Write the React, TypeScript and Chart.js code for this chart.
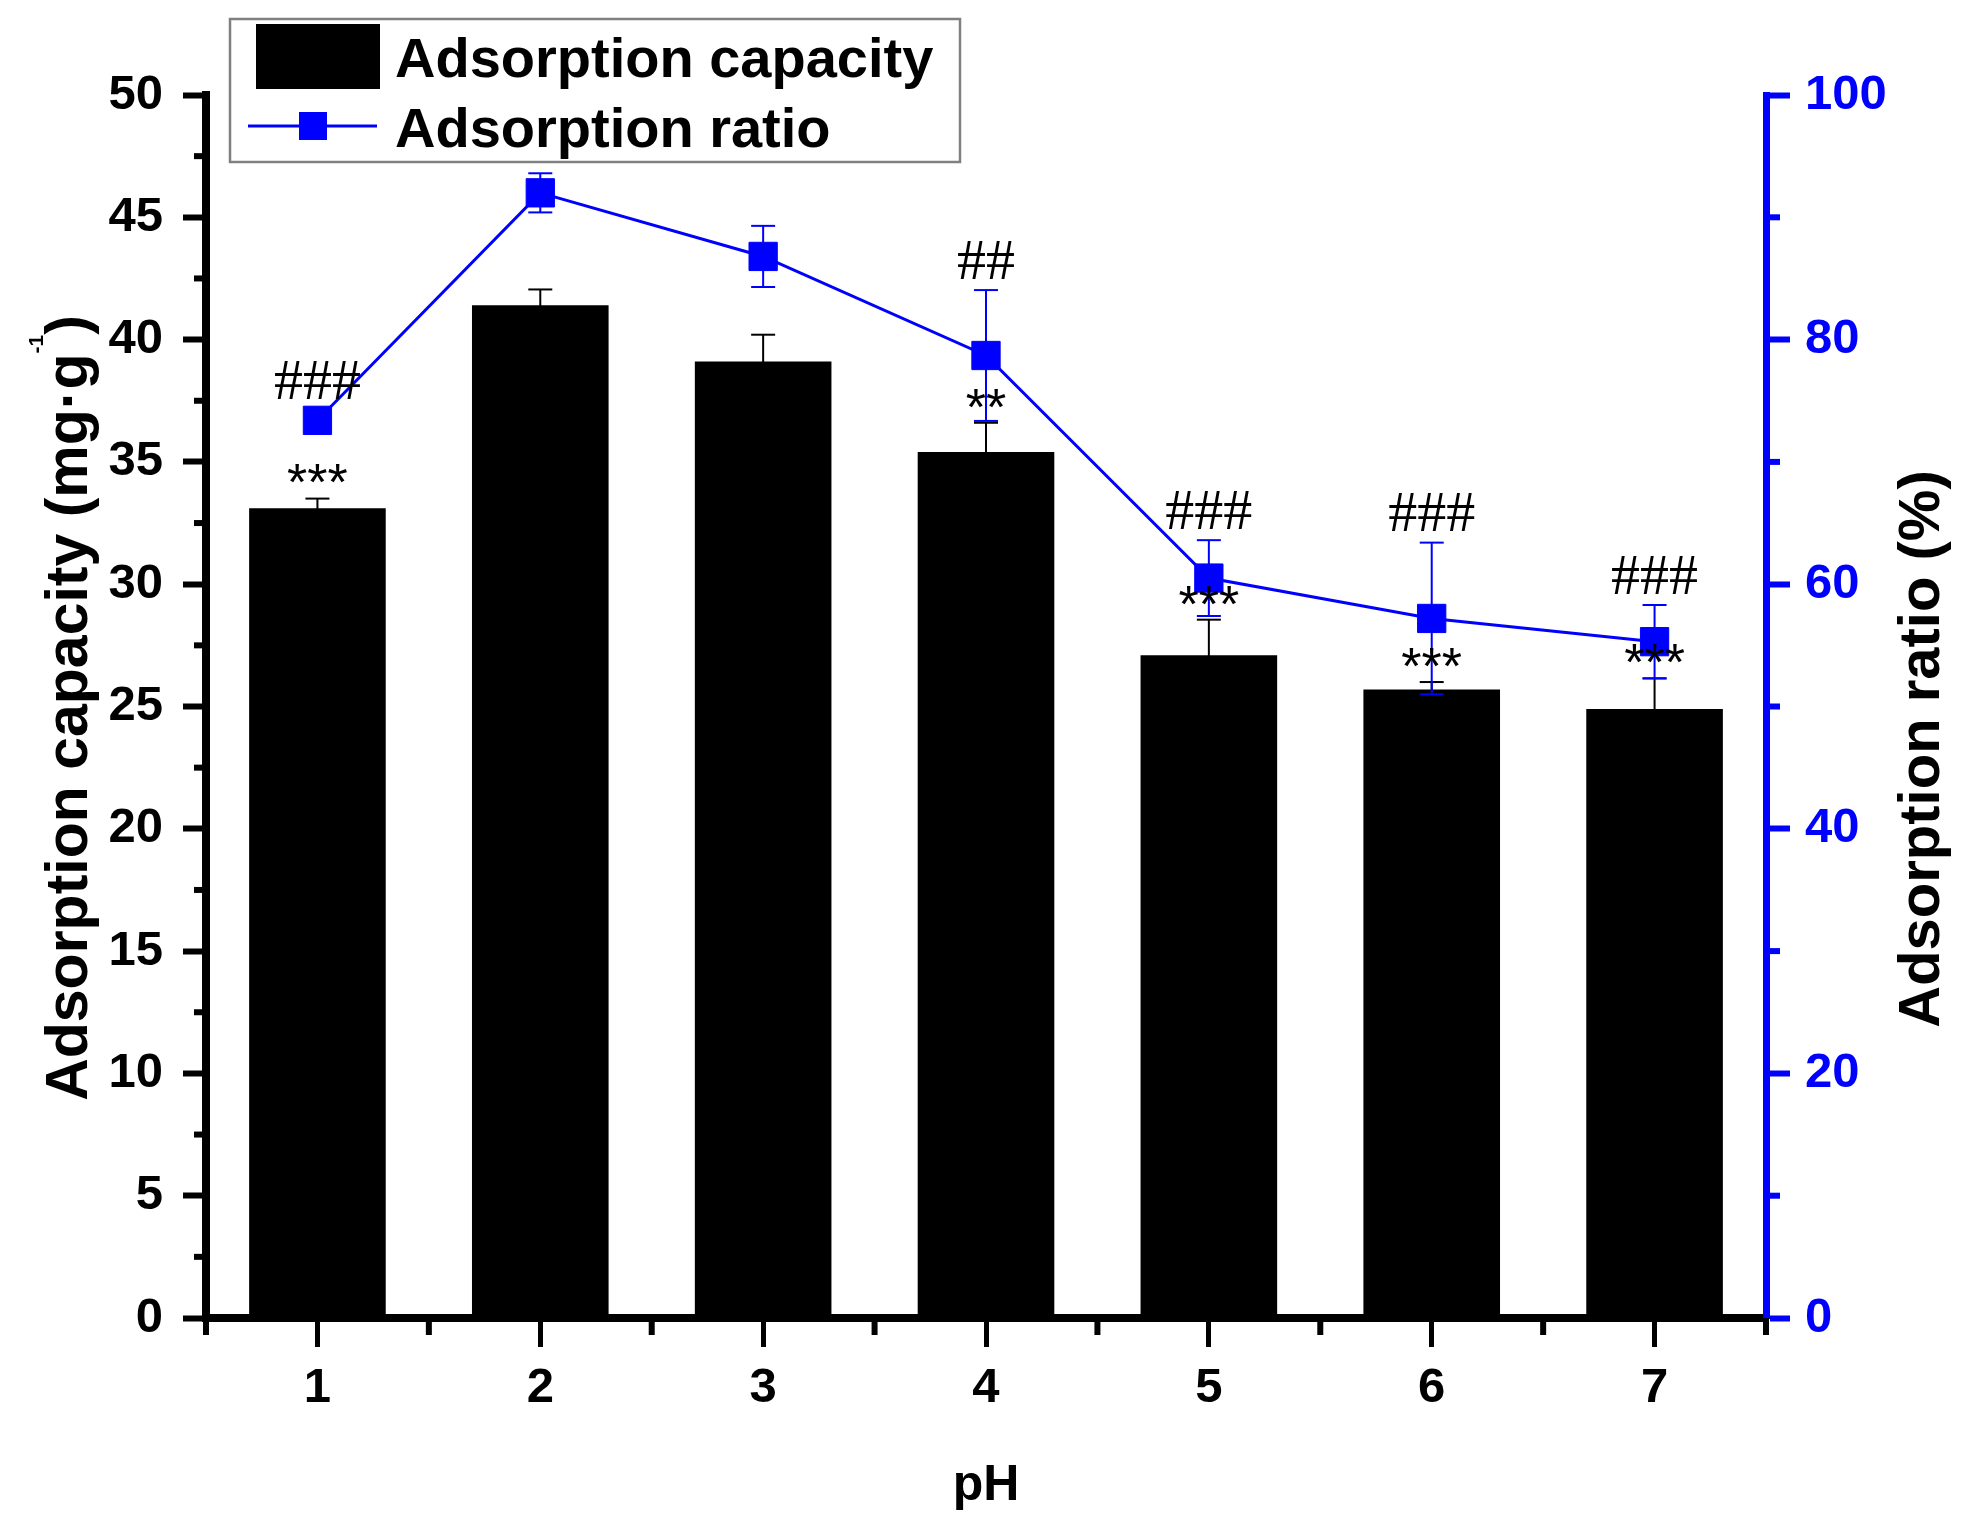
import React, { useEffect, useRef } from 'react';
import { Chart, registerables } from 'chart.js';

Chart.register(...registerables);

// ---------- data ----------
const pHCategories = ['1', '2', '3', '4', '5', '6', '7'];
const capacityValues = [33.1, 41.4, 39.1, 35.4, 27.1, 25.7, 24.9];
const capacityErrors = [0.4, 0.65, 1.1, 1.2, 1.45, 0.3, 1.25];
const ratioValues = [73.4, 92.0, 86.8, 78.7, 60.5, 57.2, 55.3];
const ratioErrors = [0.8, 1.6, 2.5, 5.35, 3.1, 6.2, 3.0];
const capacityMarks = ['***', '', '', '**', '***', '***', '***'];
const ratioMarks = ['###', '', '', '##', '###', '###', '###'];
const seriesLabels = ['Adsorption capacity', 'Adsorption ratio'];
const capacityAxisRange = [0, 50];
const capacityAxisStep = 5;
const ratioAxisRange = [0, 100];
const ratioAxisStep = 20;
const leftTitleParts = ['Adsorption capacity (mg·g', '-1', ')'];
const rightTitle = 'Adsorption ratio (%)';
const xTitle = 'pH';

// ---------- style ----------
const W = 1967;
const H = 1529;
const SANS = '"Liberation Sans", Arial, Helvetica, sans-serif';
const SERIF = '"Liberation Serif", "Times New Roman", serif';
const BLUE = '#0000ff';

function line(ctx: CanvasRenderingContext2D, x1: number, y1: number, x2: number, y2: number) {
  ctx.beginPath();
  ctx.moveTo(x1, y1);
  ctx.lineTo(x2, y2);
  ctx.stroke();
}

function drawErrorBars(chart: any, yId: string, values: number[], errors: number[], color: string, lw: number, cap: number) {
  const ctx: CanvasRenderingContext2D = chart.ctx;
  const xs = chart.scales.x;
  const ys = chart.scales[yId];
  ctx.save();
  ctx.strokeStyle = color;
  ctx.lineWidth = lw;
  values.forEach((v, i) => {
    const x = xs.getPixelForValue(i);
    const yt = ys.getPixelForValue(v + errors[i]);
    const yb = ys.getPixelForValue(v - errors[i]);
    line(ctx, x, yt, x, yb);
    line(ctx, x - cap / 2, yt, x + cap / 2, yt);
    line(ctx, x - cap / 2, yb, x + cap / 2, yb);
  });
  ctx.restore();
}

const overlayPlugin = {
  id: 'overlay',
  afterDatasetDraw(chart: any, args: any) {
    if (args.index === 0) {
      drawErrorBars(chart, 'y', capacityValues, capacityErrors, '#000', 2, 24);
    }
  },
  beforeDatasetDraw(chart: any, args: any) {
    if (args.index === 1) {
      drawErrorBars(chart, 'y1', ratioValues, ratioErrors, BLUE, 2, 24);
    }
  },
  afterDatasetsDraw(chart: any) {
    const ctx: CanvasRenderingContext2D = chart.ctx;
    const { chartArea, scales } = chart;
    const xs = scales.x;
    const ys = scales.y;
    const y1 = scales.y1;
    ctx.save();
    // minor ticks
    ctx.lineWidth = 6;
    ctx.strokeStyle = '#000';
    for (let v = capacityAxisRange[0] + capacityAxisStep / 2; v < capacityAxisRange[1]; v += capacityAxisStep) {
      const y = ys.getPixelForValue(v);
      line(ctx, chartArea.left - 12, y, chartArea.left, y);
    }
    for (let i = 0; i <= pHCategories.length; i++) {
      const x = xs.getPixelForValue(i - 0.5);
      line(ctx, x, chartArea.bottom, x, chartArea.bottom + 17);
    }
    ctx.strokeStyle = BLUE;
    for (let v = ratioAxisRange[0] + ratioAxisStep / 2; v < ratioAxisRange[1]; v += ratioAxisStep) {
      const y = y1.getPixelForValue(v);
      line(ctx, chartArea.right, y, chartArea.right + 14, y);
    }
    // significance marks
    ctx.fillStyle = '#000';
    ctx.textAlign = 'center';
    ctx.textBaseline = 'alphabetic';
    const starSize = 52;
    ctx.font = `${starSize}px ${SANS}`;
    capacityMarks.forEach((m, i) => {
      if (!m) return;
      const x = xs.getPixelForValue(i);
      const top = ys.getPixelForValue(capacityValues[i] + capacityErrors[i]);
      const centre = top - 28;
      ctx.fillText(m, x, centre + 0.575 * starSize);
    });
    const hashSize = 58;
    ctx.font = `${hashSize}px ${SERIF}`;
    ratioMarks.forEach((m, i) => {
      if (!m) return;
      const x = xs.getPixelForValue(i);
      const top = y1.getPixelForValue(ratioValues[i] + ratioErrors[i]);
      const centre = top - 31;
      ctx.fillText(m, x, centre + 0.338 * hashSize);
    });
    ctx.restore();
  },
  afterDraw(chart: any) {
    const ctx: CanvasRenderingContext2D = chart.ctx;
    const { chartArea } = chart;
    ctx.save();
    ctx.fillStyle = '#000';
    ctx.textBaseline = 'alphabetic';

    // left title with superscript
    ctx.save();
    ctx.translate(87, 708);
    ctx.rotate(-Math.PI / 2);
    ctx.textAlign = 'left';
    const mainFont = `bold 59px ${SANS}`;
    const supFont = `bold 21px ${SANS}`;
    ctx.font = mainFont;
    const w1 = ctx.measureText(leftTitleParts[0]).width;
    const w3 = ctx.measureText(leftTitleParts[2]).width;
    ctx.font = supFont;
    const w2 = ctx.measureText(leftTitleParts[1]).width;
    let lx = -(w1 + w2 + w3) / 2;
    ctx.font = mainFont;
    ctx.fillText(leftTitleParts[0], lx, 0);
    lx += w1;
    ctx.font = supFont;
    ctx.fillText(leftTitleParts[1], lx, -44);
    lx += w2;
    ctx.font = mainFont;
    ctx.fillText(leftTitleParts[2], lx, 0);
    ctx.restore();

    // right title
    ctx.save();
    ctx.translate(1939, 749);
    ctx.rotate(-Math.PI / 2);
    ctx.textAlign = 'center';
    ctx.font = `bold 58px ${SANS}`;
    ctx.fillText(rightTitle, 0, 0);
    ctx.restore();

    // x title
    ctx.textAlign = 'center';
    ctx.font = `bold 50px ${SANS}`;
    ctx.fillText(xTitle, (chartArea.left + chartArea.right) / 2, 1500);

    // legend
    const bx = 230, by = 19, bw = 730, bh = 143;
    ctx.fillStyle = '#fff';
    ctx.fillRect(bx, by, bw, bh);
    ctx.strokeStyle = '#808080';
    ctx.lineWidth = 2.5;
    ctx.strokeRect(bx, by, bw, bh);
    ctx.fillStyle = '#000';
    ctx.fillRect(256, 24, 124, 65);
    ctx.strokeStyle = BLUE;
    ctx.lineWidth = 3;
    line(ctx, 248, 126, 377, 126);
    ctx.fillStyle = BLUE;
    ctx.fillRect(299, 112, 28, 28);
    ctx.fillStyle = '#000';
    ctx.textAlign = 'left';
    ctx.font = `bold 56px ${SANS}`;
    ctx.fillText(chart.data.datasets[0].label, 395, 77);
    ctx.fillText(chart.data.datasets[1].label, 395, 147);
    ctx.restore();
  },
};

export default function App() {
  const canvasRef = useRef<HTMLCanvasElement | null>(null);

  useEffect(() => {
    let chart: Chart | null = null;
    let cancelled = false;
    const create = () => {
      if (cancelled || !canvasRef.current) return;
      const tickFont = { family: SANS, size: 49, weight: 'bold' as const };
      chart = new Chart(canvasRef.current, {
        type: 'bar',
        data: {
          labels: pHCategories,
          datasets: [
            {
              type: 'bar',
              label: seriesLabels[0],
              data: capacityValues,
              yAxisID: 'y',
              backgroundColor: '#000',
              borderWidth: 0,
              barPercentage: 0.613,
              categoryPercentage: 1,
              order: 2,
            } as any,
            {
              type: 'line',
              label: seriesLabels[1],
              data: ratioValues,
              yAxisID: 'y1',
              borderColor: BLUE,
              borderWidth: 3,
              pointStyle: 'rect',
              pointRadius: 20,
              pointBackgroundColor: BLUE,
              pointBorderColor: BLUE,
              pointBorderWidth: 1,
              tension: 0,
              fill: false,
              clip: false,
              order: 1,
            } as any,
          ],
        },
        options: {
          responsive: false,
          devicePixelRatio: 1,
          animation: false,
          events: [],
          layout: { padding: { top: 95, left: 0, right: 0, bottom: 0 } },
          plugins: {
            legend: { display: false },
            tooltip: { enabled: false },
            title: { display: false },
          },
          scales: {
            x: {
              type: 'category',
              offset: true,
              grid: {
                display: true,
                drawOnChartArea: false,
                drawTicks: true,
                tickLength: 29,
                tickWidth: 5,
                tickColor: '#000',
                offset: false,
              },
              border: { display: true, color: '#000', width: 8 },
              ticks: { color: '#000', font: tickFont, padding: 12, maxRotation: 0, autoSkip: false },
              title: { display: false },
              afterFit: (s: any) => {
                s.height = 211;
              },
            },
            y: {
              type: 'linear',
              position: 'left',
              min: capacityAxisRange[0],
              max: capacityAxisRange[1],
              grid: {
                display: true,
                drawOnChartArea: false,
                drawTicks: true,
                tickLength: 23,
                tickWidth: 6,
                tickColor: '#000',
              },
              border: { display: true, color: '#000', width: 8 },
              ticks: { stepSize: capacityAxisStep, color: '#000', font: tickFont, padding: 20 },
              title: { display: false },
              afterFit: (s: any) => {
                s.width = 206;
              },
            },
            y1: {
              type: 'linear',
              position: 'right',
              min: ratioAxisRange[0],
              max: ratioAxisRange[1],
              grid: {
                display: true,
                drawOnChartArea: false,
                drawTicks: true,
                tickLength: 24,
                tickWidth: 6,
                tickColor: BLUE,
              },
              border: { display: true, color: BLUE, width: 7 },
              ticks: { stepSize: ratioAxisStep, color: BLUE, font: tickFont, padding: 15 },
              title: { display: false },
              afterFit: (s: any) => {
                s.width = 201;
              },
            },
          },
        } as any,
        plugins: [overlayPlugin as any],
      });
    };
    const fontsApi = (document as any).fonts;
    if (fontsApi && fontsApi.load) {
      Promise.all([
        fontsApi.load(`bold 48px ${SANS}`),
        fontsApi.load(`48px ${SANS}`),
        fontsApi.load(`58px ${SERIF}`),
      ])
        .catch(() => undefined)
        .then(create);
    } else {
      create();
    }
    return () => {
      cancelled = true;
      if (chart) chart.destroy();
    };
  }, []);

  return (
    <div style={{ position: 'fixed', left: 0, top: 0, width: W, height: H, background: '#fff' }}>
      <canvas ref={canvasRef} width={W} height={H} style={{ display: 'block' }} />
    </div>
  );
}
